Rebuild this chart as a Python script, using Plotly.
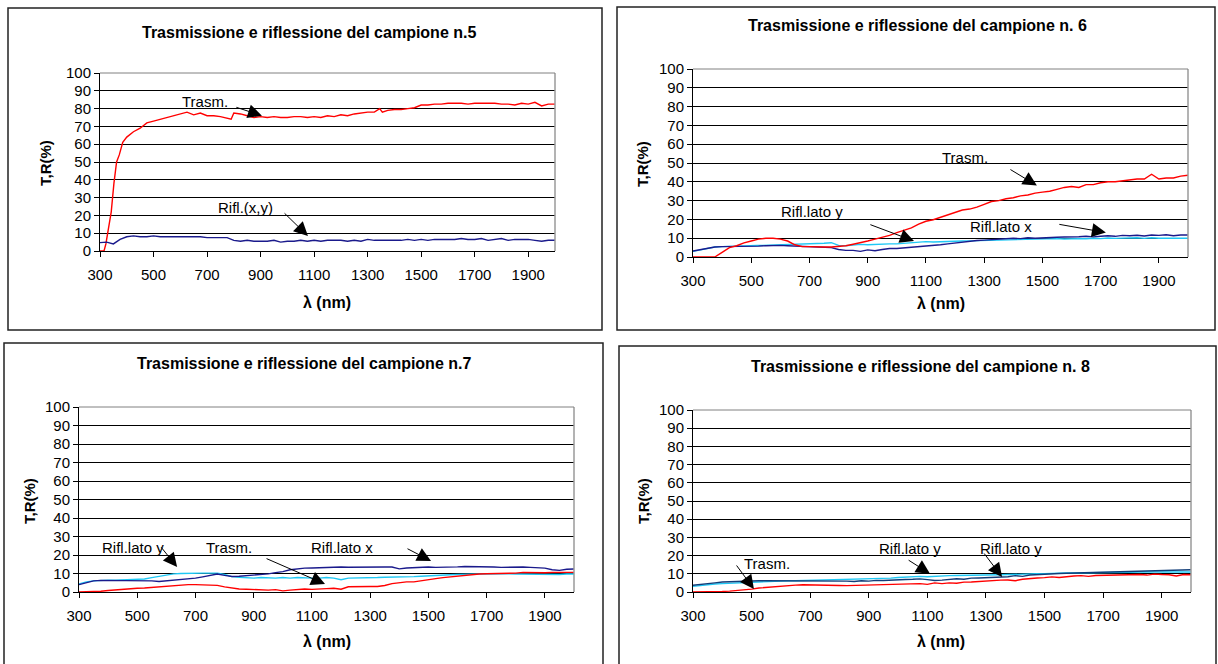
import plotly.graph_objects as go

# ---------------- data ----------------
wl = list(range(300, 2001, 25))  # common wavelength grid (nm)

# Panel n.5
wl_t5 = [300, 315, 322, 332, 342, 352, 362, 372, 385, 400,
         425, 450, 475, 500, 525, 550, 575, 600, 625, 650,
         675, 700, 725, 750, 775, 790, 800, 825, 850, 875,
         900, 925, 950, 975, 1000, 1025, 1050, 1075, 1100, 1125,
         1150, 1175, 1200, 1225, 1250, 1275, 1300, 1325, 1345, 1355,
         1375, 1400, 1425, 1450, 1475, 1500, 1525, 1550, 1575, 1600,
         1625, 1650, 1675, 1700, 1725, 1750, 1775, 1800, 1825, 1850,
         1875, 1900, 1925, 1950, 1975, 2000]
trasm5 = [0, 0, 4, 14, 22, 38, 50, 54, 61, 64,
          67, 69, 72, 73, 74, 75, 76, 77, 78, 76.5,
          77.5, 76, 76, 75.5, 74.5, 74, 77.5, 77, 76, 75,
          75.5, 75, 75.5, 75, 75, 75.5, 75.5, 75, 75.5, 75,
          76, 75.5, 76.5, 76, 77, 77.5, 78, 78, 80, 78,
          79, 79.5, 79.5, 80, 80.5, 82, 82, 82.5, 82.5, 83,
          83, 83, 82.5, 83, 83, 83, 83, 82.5, 82.5, 82,
          83, 82.5, 83.5, 81.5, 82.5, 82.5]
rifl5 = [4.7, 5.0, 4.0, 6.5, 8.0, 8.5, 8.0, 8.0, 8.5, 8.0,
         8.0, 8.0, 8.0, 8.0, 8.0, 8.0, 7.5, 7.5, 7.5, 7.5,
         6.0, 5.5, 6.0, 5.5, 5.5, 5.5, 6.0, 5.0, 5.5, 5.5,
         6.0, 5.5, 6.0, 5.5, 6.0, 6.0, 6.0, 5.5, 6.0, 5.5,
         6.5, 6.0, 6.0, 6.0, 6.0, 6.0, 6.5, 6.0, 6.5, 6.0,
         6.5, 6.5, 6.5, 6.5, 7.0, 6.5, 6.5, 7.0, 6.0, 6.5,
         7.0, 6.0, 6.5, 6.5, 6.5, 6.0, 5.5, 6.0, 6.0]

# Panel n.6
trasm6 = [0, 0, 0, 0, 2.5, 5.0, 6.0, 7.5, 8.5, 9.5,
          10, 10, 9.5, 8.5, 6.5, 5.5, 5.5, 5.3, 5.3, 5.3,
          5.5, 6.0, 6.8, 7.5, 8.5, 9.5, 10.3, 11.5, 13, 14.3,
          15.5, 17.5, 19, 19.8, 21, 22.5, 23.5, 25, 25.5, 26.5,
          28, 29.5, 30, 31, 31.5, 32.5, 33, 34, 34.5, 35,
          36, 37, 37.5, 37, 38.5, 38.5, 39.5, 40, 40, 40.5,
          41, 41.5, 41.5, 44, 41.5, 42, 42, 43, 43.5]
latox6 = [3.2, 4.0, 4.8, 5.3, 5.5, 5.5, 5.5, 5.7, 5.7, 5.8,
          6.0, 6.2, 6.2, 6.0, 5.8, 5.5, 5.5, 5.3, 5.2, 5.0,
          4.0, 3.5, 3.5, 3.0, 3.8, 3.3, 4.0, 4.5, 4.5, 4.8,
          5.3, 5.5, 6.0, 6.3, 6.5, 7.0, 7.5, 8.0, 8.5, 8.8,
          9.0, 9.2, 9.6, 9.8, 10.0, 9.8, 10.2, 10.0, 10.3, 10.2,
          10.5, 10.6, 10.5, 10.8, 11.0, 10.7, 11.0, 11.3, 11.0, 11.5,
          11.3, 11.6, 11.2, 11.7, 11.5, 11.8, 11.3, 11.7, 11.7]
latoy6 = [3.0, 3.8, 4.6, 5.3, 5.5, 5.6, 5.7, 5.8, 5.9, 6.0,
          6.2, 6.3, 6.3, 6.4, 6.5, 6.6, 6.8, 7.0, 7.3, 7.6,
          6.2, 6.0, 6.5, 6.7, 6.5, 6.8, 7.0, 7.0, 7.0, 7.3,
          7.5, 7.8, 8.2, 8.0, 8.2, 8.3, 8.3, 8.5, 8.6, 8.7,
          8.8, 9.0, 9.0, 9.2, 9.3, 9.3, 9.5, 9.4, 9.6, 9.5,
          9.8, 9.6, 9.8, 9.8, 9.7, 10.0, 9.8, 10.1, 9.9, 10.1,
          10.0, 10.2, 9.9, 10.2, 10.0, 10.1, 9.9, 10.0, 10.0]

# Panel n.7
trasm7 = [0, 0, 0, 0.4, 0.8, 1.2, 1.5, 1.8, 2.0, 2.2,
          2.5, 2.8, 3.2, 3.6, 3.8, 4.0, 4.0, 4.0, 3.8, 3.6,
          2.8, 2.0, 1.6, 1.5, 1.3, 1.3, 1.0, 1.3, 0.6, 1.0,
          1.5, 1.6, 1.4, 1.8, 1.8, 2.0, 1.5, 2.8, 3.0, 3.0,
          3.0, 3.0, 3.5, 4.5, 5.0, 5.5, 5.5, 6.2, 6.6, 7.2,
          7.8, 8.2, 8.8, 9.3, 9.5, 9.7, 9.9, 10.0, 9.8, 10.0,
          10.2, 10.6, 10.5, 10.6, 10.4, 10.6, 10.5, 10.6, 10.6]
latox7 = [4.0, 5.2, 6.0, 6.3, 6.3, 6.3, 6.3, 6.3, 6.3, 6.3,
          6.0, 5.7, 6.0, 6.3, 6.6, 7.0, 7.5, 8.2, 9.0, 9.7,
          9.0, 8.4, 8.5, 8.8, 9.0, 9.3, 9.8, 10.5, 11.0, 12.0,
          12.5, 12.9, 13.0, 13.2, 13.3, 13.3, 13.5, 13.4, 13.5, 13.5,
          13.5, 13.6, 13.5, 13.5, 12.5, 13.0, 13.2, 13.5, 13.5, 13.3,
          13.3, 13.5, 13.6, 13.8, 13.8, 13.6, 13.5, 13.5, 13.3, 13.5,
          13.3, 13.5, 13.3, 13.0, 12.9, 12.0, 11.7, 12.3, 12.4]
latoy7 = [4.3, 5.5, 6.0, 6.3, 6.4, 6.4, 6.5, 6.5, 6.6, 7.0,
          7.8, 8.5, 9.2, 9.8, 10.0, 10.2, 10.2, 10.2, 10.2, 10.2,
          9.5, 8.3, 8.0, 7.6, 7.5, 7.8, 7.5, 7.5, 7.8, 7.5,
          7.8, 7.5, 7.5, 7.5, 7.8, 7.5, 6.6, 7.5, 7.5, 7.8,
          7.5, 7.8, 8.0, 8.0, 8.2, 8.0, 8.3, 8.5, 8.6, 8.8,
          9.0, 9.3, 9.5, 9.7, 9.7, 9.8, 9.7, 9.8, 9.7, 9.8,
          9.7, 9.6, 9.8, 9.5, 9.7, 9.6, 9.5, 9.7, 9.7]

# Panel n.8
trasm8 = [0, 0, 0, 0.2, 0.3, 0.5, 0.8, 1.1, 1.6, 2.2,
          2.6, 3.0, 3.3, 3.6, 3.8, 4.0, 4.0, 4.0, 3.9, 3.7,
          3.6, 3.5, 3.6, 3.8, 3.6, 3.8, 3.7, 3.9, 4.0, 4.2,
          4.3, 4.6, 4.2, 5.0, 4.6, 5.0, 4.8, 5.4, 5.5, 5.8,
          6.2, 6.2, 6.5, 6.6, 6.2, 7.0, 7.5, 7.7, 7.9, 8.3,
          8.0, 8.6, 8.8, 9.0, 8.6, 9.1, 9.2, 9.3, 9.0, 9.5,
          9.5, 9.6, 9.3, 9.8, 9.6, 9.5, 8.8, 9.6, 9.5]
latox8 = [3.7, 4.0, 4.6, 5.0, 5.5, 5.7, 5.8, 6.0, 6.1, 6.2,
          6.2, 6.2, 6.2, 6.2, 6.2, 6.2, 6.3, 6.2, 6.3, 6.0,
          5.9, 6.0, 5.8, 6.2, 6.0, 6.4, 6.3, 6.6, 6.8, 6.9,
          7.0, 7.2, 6.8, 6.3, 6.5, 7.0, 7.3, 7.0, 7.6, 7.7,
          7.8, 8.0, 8.2, 8.4, 9.0, 8.6, 9.3, 9.6, 9.9, 10.0,
          10.2, 10.3, 10.4, 10.5, 10.8, 10.7, 11.0, 11.1, 11.2, 11.3,
          11.4, 11.6, 11.8, 11.9, 11.9, 12.0, 12.2, 12.2, 12.2]
latoy8 = [3.1, 3.6, 4.2, 4.4, 4.6, 4.8, 5.0, 5.2, 5.5, 5.6,
          5.7, 5.8, 6.0, 6.2, 6.2, 6.3, 6.4, 6.4, 6.5, 6.5,
          6.5, 6.8, 6.7, 6.9, 7.0, 7.2, 7.3, 7.6, 8.0, 8.2,
          8.5, 8.6, 8.4, 8.7, 8.8, 9.0, 9.1, 9.1, 9.2, 9.3,
          9.4, 9.5, 9.5, 9.6, 9.8, 9.8, 9.9, 10.0, 10.1, 10.3,
          10.3, 10.4, 10.4, 10.5, 10.6, 10.6, 10.7, 10.7, 10.8, 10.8,
          10.9, 10.9, 11.0, 11.0, 11.0, 11.0, 11.0, 11.2, 11.0]

titles = ["Trasmissione e riflessione del campione n.5",
          "Trasmissione e riflessione del campione n. 6",
          "Trasmissione e riflessione del campione n.7",
          "Trasmissione e riflessione del campione n. 8"]
x_ticks = [300, 500, 700, 900, 1100, 1300, 1500, 1700, 1900]
y_ticks = list(range(0, 101, 10))
x_title = "λ (nm)"
y_title = "T,R(%)"

RED = "#FF0000"
NAVY = "#1A1A8C"
NAVY8 = "#123D78"
CYAN = "#1EC8F5"

W, H = 1218, 664
FONT = "Liberation Sans, Arial, sans-serif"


def px(x):
    return x / W


def py(y):
    return 1 - y / H


# panel geometry (pixels): plot area and frame box
panels = [
    dict(plot=(100, 555, 73, 251), box=(8, 602, 8, 330), title=(309, 32), xt=(327, 302), yt=(46, 163)),
    dict(plot=(693, 1188, 69, 257), box=(617, 1215, 7, 330), title=(917, 25), xt=(941, 304), yt=(643, 164)),
    dict(plot=(79, 574, 407, 592), box=(4, 603, 343, 680), title=(304, 363), xt=(327, 641), yt=(30, 501)),
    dict(plot=(693, 1191, 410, 592), box=(619, 1216, 346, 680), title=(920, 366), xt=(941, 641), yt=(644, 501)),
]

fig = go.Figure()

series = [
    [(wl_t5, trasm5, RED), (wl, rifl5, NAVY)],
    [(wl, latoy6, CYAN), (wl, latox6, NAVY), (wl, trasm6, RED)],
    [(wl, latoy7, CYAN), (wl, latox7, NAVY), (wl, trasm7, RED)],
    [(wl, latoy8, CYAN), (wl, latox8, NAVY8), (wl, trasm8, RED)],
]

shapes = []
annotations = []
for i, p in enumerate(panels):
    n = i + 1
    sfx = "" if n == 1 else str(n)
    x0, x1, y0, y1 = p["plot"]
    for xs, ys, col in series[i]:
        fig.add_trace(go.Scatter(x=xs, y=ys, mode="lines", line=dict(color=col, width=1.4),
                                 xaxis="x" + sfx, yaxis="y" + sfx, showlegend=False, hoverinfo="skip"))
    fig.layout["xaxis" + sfx] = dict(
        domain=[px(x0), px(x1)], anchor="y" + sfx, range=[300, 2000], automargin=False,
        tickmode="array", tickvals=x_ticks, ticks="outside", ticklen=5, tickcolor="black",
        showline=True, linecolor="black", linewidth=1, showgrid=False, zeroline=False,
        tickfont=dict(family=FONT, size=15, color="black"), ticklabelstandoff=5, fixedrange=True)
    fig.layout["yaxis" + sfx] = dict(
        domain=[py(y1), py(y0)], anchor="x" + sfx, range=[0, 100], automargin=False,
        tickmode="array", tickvals=y_ticks, ticks="outside", ticklen=5, tickcolor="black",
        showline=True, linecolor="black", linewidth=1, showgrid=True, gridcolor="black", gridwidth=1,
        zeroline=False, tickfont=dict(family=FONT, size=15, color="black"), fixedrange=True)
    # plot-area right / top border
    shapes.append(dict(type="line", xref="x%s domain" % sfx, yref="y%s domain" % sfx,
                       x0=1, x1=1, y0=0, y1=1, line=dict(color="#9A9A9A", width=1.5)))
    shapes.append(dict(type="line", xref="x%s domain" % sfx, yref="y%s domain" % sfx,
                       x0=0, x1=1, y0=1, y1=1, line=dict(color="#808080", width=1)))
    # frame box
    bx0, bx1, by0, by1 = p["box"]
    shapes.append(dict(type="rect", xref="paper", yref="paper", x0=px(bx0), x1=px(bx1),
                       y0=py(by1), y1=py(by0), line=dict(color="#222222", width=1.5), layer="below"))
    tx, ty = p["title"]
    annotations.append(dict(text="<b>%s</b>" % titles[i], x=px(tx), y=py(ty), xref="paper", yref="paper",
                            showarrow=False, font=dict(family=FONT, size=16, color="black"),
                            xanchor="center", yanchor="middle"))
    ax_, ay_ = p["xt"]
    annotations.append(dict(text="<b>%s</b>" % x_title, x=px(ax_), y=py(ay_), xref="paper", yref="paper",
                            showarrow=False, font=dict(family=FONT, size=16, color="black"),
                            xanchor="center", yanchor="middle"))
    yx_, yy_ = p["yt"]
    annotations.append(dict(text="<b>%s</b>" % y_title, x=px(yx_), y=py(yy_), xref="paper", yref="paper",
                            showarrow=False, textangle=-90, font=dict(family=FONT, size=15, color="black"),
                            xanchor="center", yanchor="middle"))

# labels and arrows: (panel, text, text_x, text_y, tail_x, tail_y, tip_x, tip_y)
labels = [
    (1, "Trasm.", 694, 84, 804, 81, 905, 76),
    (1, "Rifl.(x,y)", 842, 24.7, 984, 22, 1077, 8.4),
    (2, "Trasm.", 1234, 53, 1385, 47, 1481, 38),
    (2, "Rifl.lato y", 709, 24, 904, 17.5, 1059, 8.5),
    (2, "Rifl.lato x", 1358, 16, 1553, 17.5, 1718, 13),
    (3, "Rifl.lato y", 484, 23.8, 578, 25, 637, 13.5),
    (3, "Trasm.", 815, 24, 939, 18.4, 1145, 4.3),
    (3, "Rifl.lato x", 1203, 23.8, 1423, 23.8, 1509, 16.8),
    (4, "Trasm.", 553, 15.4, 445, 15.4, 508, 1.6),
    (4, "Rifl.lato y", 1041, 24, 1031, 18, 1109, 10),
    (4, "Rifl.lato y", 1386, 24, 1290, 22, 1355, 8.2),
]
for n, txt, tx, ty, ax, ay, hx, hy in labels:
    sfx = "" if n == 1 else str(n)
    annotations.append(dict(text=txt, x=tx, y=ty, xref="x" + sfx, yref="y" + sfx, showarrow=False,
                            font=dict(family=FONT, size=15, color="black"),
                            xanchor="center", yanchor="middle"))
    annotations.append(dict(text="", x=hx, y=hy, xref="x" + sfx, yref="y" + sfx,
                            ax=ax, ay=ay, axref="x" + sfx, ayref="y" + sfx, showarrow=True,
                            arrowhead=2, arrowsize=2.8, arrowwidth=1, arrowcolor="black", standoff=0))

fig.update_layout(width=W, height=H, margin=dict(l=0, r=0, t=0, b=0, pad=0), autosize=False,
                  paper_bgcolor="white", plot_bgcolor="white", shapes=shapes, annotations=annotations,
                  font=dict(family=FONT, color="black"))

fig.write_html("out.html", config={"displayModeBar": False},
               post_script="document.body.style.margin='0';document.body.style.padding='0';"
                           "document.documentElement.style.overflow='hidden';")
